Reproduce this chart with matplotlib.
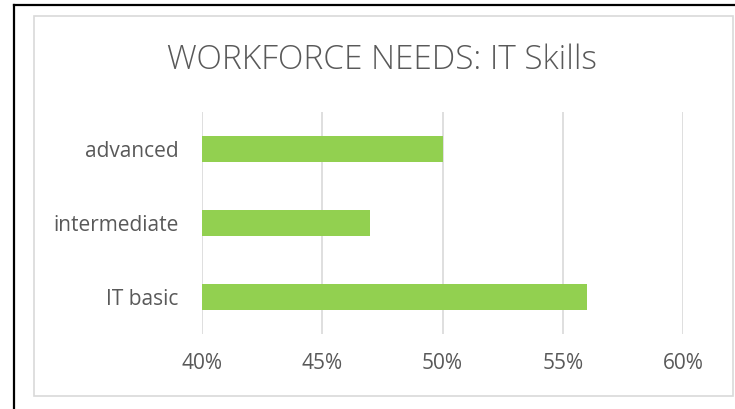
import matplotlib.pyplot as plt
from matplotlib.patches import Rectangle
from matplotlib.ticker import PercentFormatter

categories = ["IT basic", "intermediate", "advanced"]
values = [56, 47, 50]
ticks = [40, 45, 50, 55, 60]

plt.rcParams['font.family'] = ['Open Sans', 'DejaVu Sans']

W, H = 735, 409
fig = plt.figure(figsize=(W / 100, H / 100), dpi=100)

# outer black frame (top + left only) and inner gray chart box
fig.add_artist(plt.Line2D([13.5 / W, 13.5 / W], [0, 1 - 5 / H], color="black", lw=1.6))
fig.add_artist(plt.Line2D([13.5 / W, 1], [1 - 5 / H, 1 - 5 / H], color="black", lw=1.6))
fig.add_artist(Rectangle((34 / W, 1 - 396 / H), (733 - 34) / W, (396 - 16) / H,
                         transform=fig.transFigure, fill=False, ec="#d9d9d9", lw=1.2))

ax = fig.add_axes([202 / W, 1 - 334 / H, (683 - 202) / W, (334 - 112) / H])
ax.barh(categories, values, height=0.34, color="#92d050", zorder=3)
ax.set_xlim(40, 60)
ax.set_ylim(-0.5, 2.5)
ax.set_xticks(ticks)
ax.xaxis.set_major_formatter(PercentFormatter(decimals=0))
ax.grid(axis="x", color="#d9d9d9", lw=1.2, zorder=0)
for s in ax.spines.values():
    s.set_visible(False)
ax.tick_params(length=0, labelsize=15, colors="#595959")
ax.tick_params(axis="x", pad=14)
ax.tick_params(axis="y", pad=17)

fig.text(382 / W, 1 - 60 / H, "WORKFORCE NEEDS: IT Skills", ha="center", va="center",
         fontsize=24, color="#595959", fontweight="light")

fig.savefig("out.png", dpi=100)
